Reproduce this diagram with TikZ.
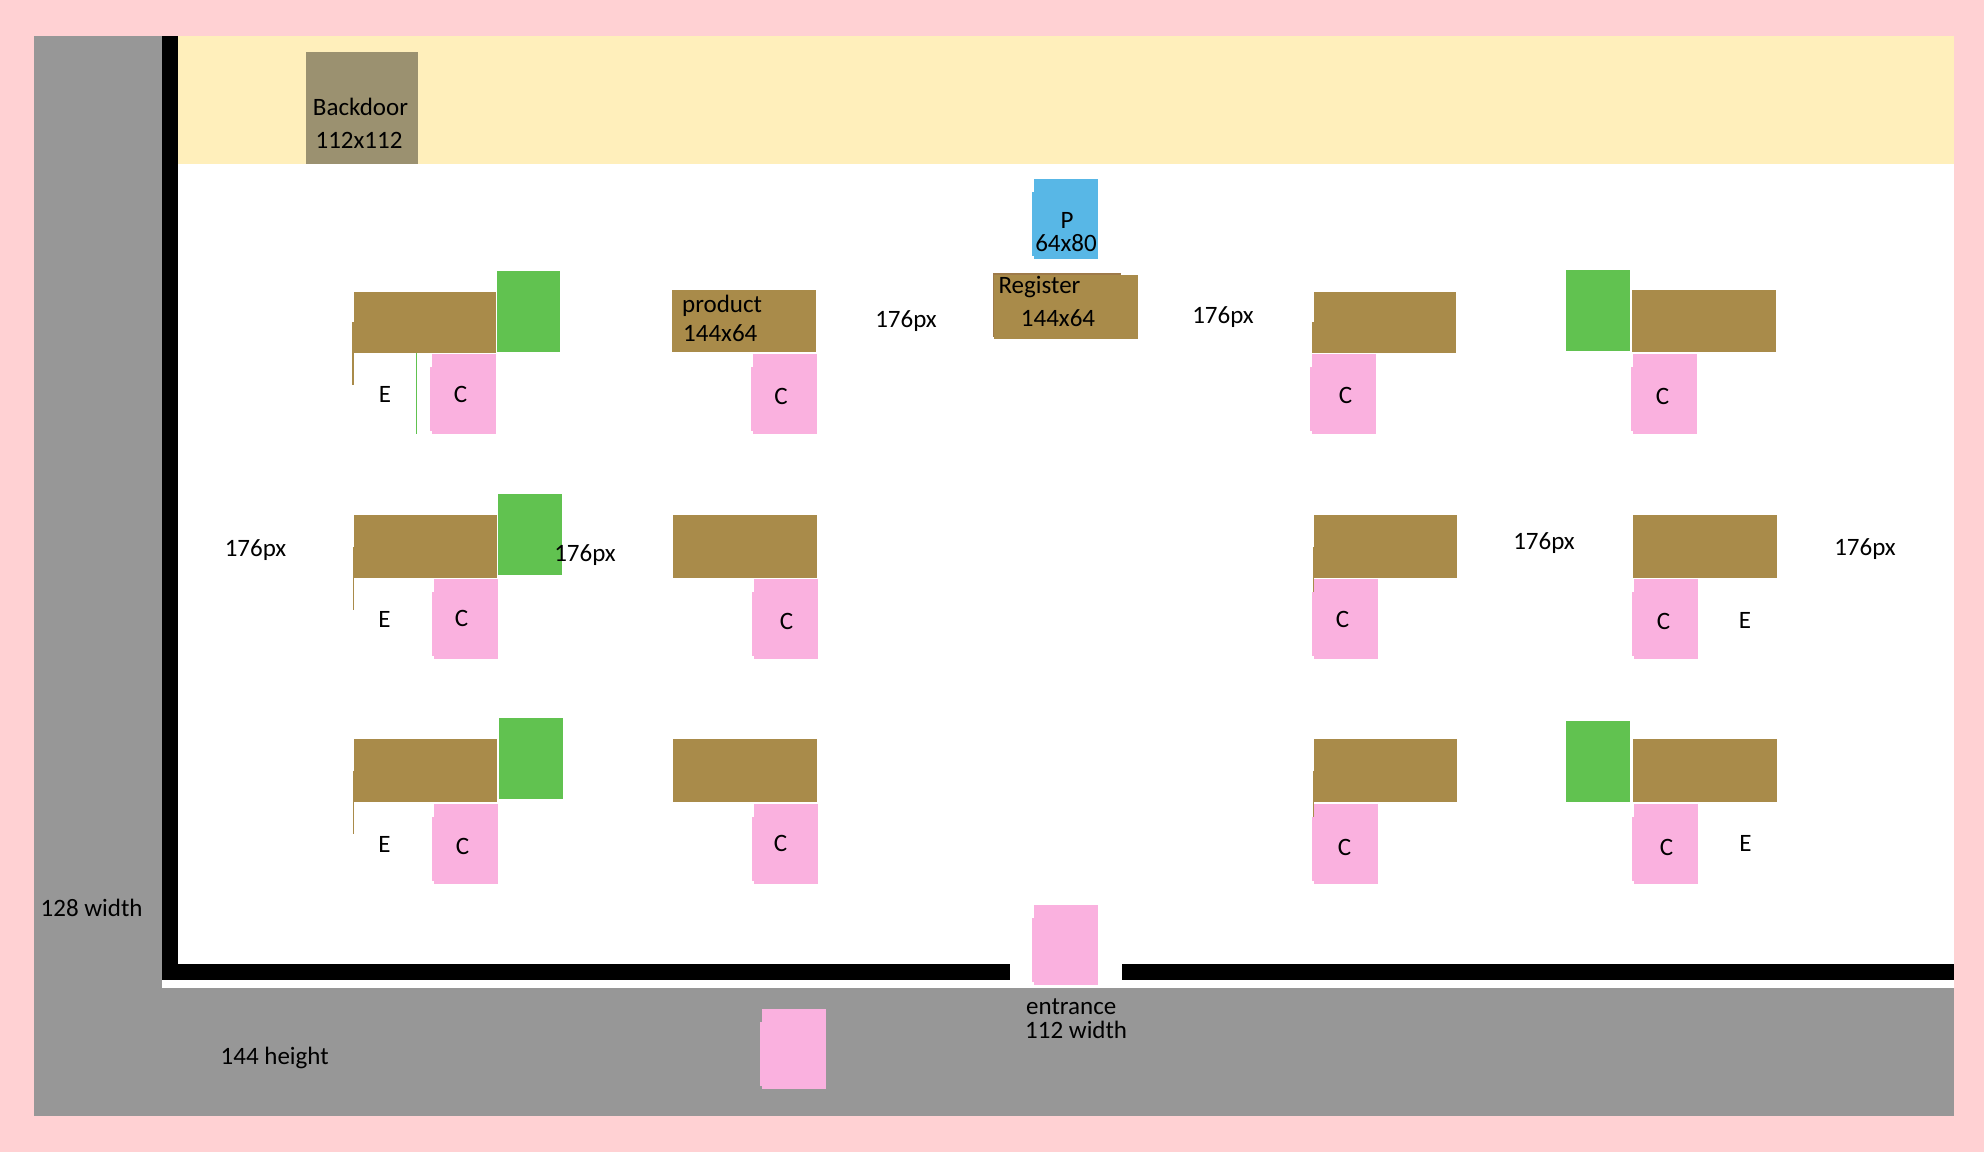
\documentclass[tikz,border=0pt]{standalone}
\usepackage{fontspec}
\setmainfont{Carlito}
\definecolor{margin}{HTML}{FFD1D3}
\definecolor{street}{HTML}{979797}
\definecolor{stock}{HTML}{FFEFBB}
\definecolor{backdoor}{HTML}{9B9170}
\definecolor{shelf}{HTML}{A98B4A}
\definecolor{shelfdark}{HTML}{9E7A4A}
\definecolor{crate}{HTML}{61C250}
\definecolor{shopper}{HTML}{FAB1DF}
\definecolor{clerk}{HTML}{58B7E6}
\tikzset{
	txt/.style={inner sep=0pt,font=\fontsize{25}{30}\selectfont,text=black},
	base/.style={txt,anchor=base},
	west/.style={txt,anchor=base west}
}
\newcommand{\custbox}[3]{\fill [#3] (#1-2,#2+13) rectangle (#1,#2+77);\fill [#3] (#1,#2) rectangle (#1+64,#2+80);}
\begin{document}
\begin{tikzpicture}[x=1pt,y=-1pt]
	\useasboundingbox (0,0) rectangle (1984,1152);
	\fill [margin] (0,0) rectangle (1984,1152);
	\fill [street] (34,36) rectangle (162,1116);
	\fill [street] (162,988) rectangle (1954,1116);
	\fill [white] (162,36) rectangle (1954,988);
	\fill [stock] (178,36) rectangle (1954,164);
	\fill [black] (162,36) rectangle (178,980);
	\fill [black] (162,964) rectangle (1010,980);
	\fill [black] (1122,964) rectangle (1954,980);
	\fill [backdoor] (306,52) rectangle (418,164);
	\node [base] (doorname) at (360.5,115) {Backdoor};\node [base] (doorsize) at (359,148) {112x112};
	% clerk and register
	\custbox{1034}{179}{clerk}
	\node [base] (clerkname) at (1067,228) {P};\node [base] (clerksize) at (1066,251.5) {64x80};
	\fill [shelfdark] (993,273) rectangle (1121,337);
	\fill [shelf] (994,275) rectangle (1138,339);
	\node [base] (regname) at (1039.5,293.5) {Register};\node [base] (regsize) at (1058,326) {144x64};
	% first row
	\fill [shelf] (352,322) rectangle (354,385);\fill [shelf] (354,292) rectangle (496,353);
	\fill [crate] (497,271) rectangle (560,352);
	\fill [crate] (415.5,353) rectangle (417,434);
	\custbox{432}{354}{shopper}
	\node [txt] (e11) at (385,394.5) {E};\node [txt] (c11) at (460.5,394) {C};
	\fill [shelf] (672,290) rectangle (816,352);
	\node [west] (prodname) at (682,312.5) {product};\node [west] (prodsize) at (683,341.5) {144x64};
	\custbox{753}{354}{shopper}
	\node [txt] (c12) at (781,396) {C};
	\fill [shelf] (1312,322) rectangle (1314,353);\fill [shelf] (1314,292) rectangle (1456,353);
	\custbox{1312}{354}{shopper}
	\node [txt] (c13) at (1345.5,395) {C};
	\fill [crate] (1566,270) rectangle (1630,351);
	\fill [shelf] (1632,290) rectangle (1776,352);
	\custbox{1633}{354}{shopper}
	\node [txt] (c14) at (1662.5,396.5) {C};
	% second row
	\fill [shelf] (352.5,547) rectangle (354,610);\fill [shelf] (354,515) rectangle (497,578);
	\fill [crate] (498,494) rectangle (562,575);
	\custbox{434}{579}{shopper}
	\node [txt] (e21) at (384.5,619.5) {E};\node [txt] (c21) at (461.5,618.5) {C};
	\fill [shelf] (673,515) rectangle (817,578);
	\custbox{754}{579}{shopper}
	\node [txt] (c22) at (786.5,621.5) {C};
	\fill [shelf] (1312.5,547) rectangle (1314,592);\fill [shelf] (1314,515) rectangle (1457,578);
	\custbox{1314}{579}{shopper}
	\node [txt] (c23) at (1342.5,619) {C};
	\fill [shelf] (1633,515) rectangle (1777,578);
	\custbox{1634}{579}{shopper}
	\node [txt] (c24) at (1663.5,621) {C};\node [txt] (e24) at (1745,620.5) {E};
	% third row
	\fill [shelf] (352.5,771) rectangle (354,834);\fill [shelf] (354,739) rectangle (497,802);
	\fill [crate] (499,718) rectangle (563,799);
	\custbox{434}{804}{shopper}
	\node [txt] (e31) at (384.5,844.5) {E};\node [txt] (c31) at (462.5,846.5) {C};
	\fill [shelf] (673,739) rectangle (817,802);
	\custbox{754}{804}{shopper}
	\node [txt] (c32) at (780.5,843) {C};
	\fill [shelf] (1312.5,771) rectangle (1314,817);\fill [shelf] (1314,739) rectangle (1457,802);
	\custbox{1314}{804}{shopper}
	\node [txt] (c33) at (1344.5,847.5) {C};
	\fill [crate] (1566,721) rectangle (1630,802);
	\fill [shelf] (1633,739) rectangle (1777,802);
	\custbox{1634}{804}{shopper}
	\node [txt] (c34) at (1666.5,847.5) {C};\node [txt] (e34) at (1745.5,843.5) {E};
	% entrance
	\custbox{1034}{905}{shopper}
	\custbox{762}{1009}{shopper}
	\node [west] (entname) at (1026,1014) {entrance};\node [west] (entsize) at (1025,1038) {112 width};
	\node [west] (sidew) at (40.5,916) {128 width};\node [west] (sideh) at (220.5,1064) {144 height};
	% aisle widths
	\node [base] (gap1) at (255.5,556) {176px};
	\node [base] (gap2) at (585,561) {176px};
	\node [base] (gap3) at (906,327) {176px};
	\node [base] (gap4) at (1223,323) {176px};
	\node [base] (gap5) at (1544,549) {176px};
	\node [base] (gap6) at (1865,555) {176px};
\end{tikzpicture}
\end{document}
